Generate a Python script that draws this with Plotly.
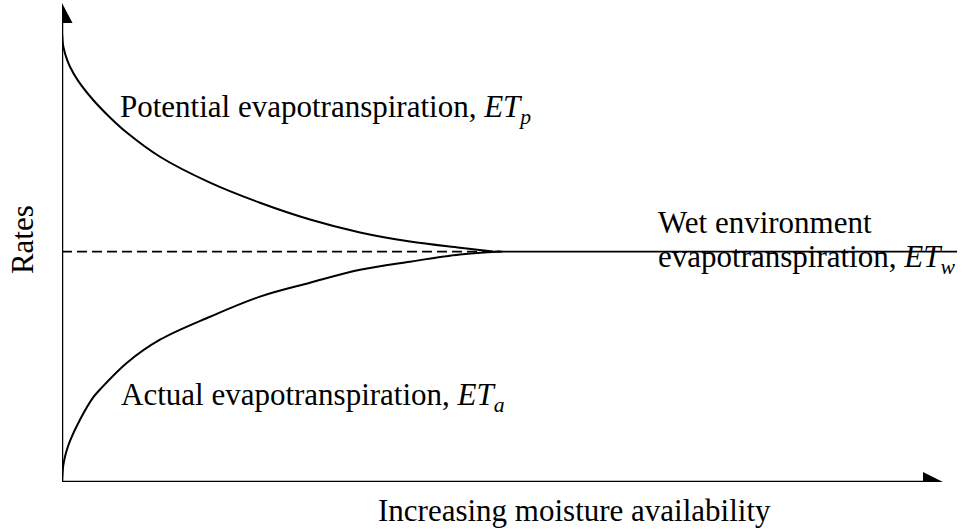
import plotly.graph_objects as go

# ---- data (moisture availability 0..1 along the axis, rates 0..1 along the axis)
moisture_etp = [0, 0.00114, 0.00227, 0.00454, 0.00908, 0.01816, 0.0352, 0.0545, 0.0738,
                0.1112, 0.168, 0.2247, 0.2815, 0.3383, 0.395, 0.4518, 0.4892]
rate_etp = [0.938, 0.913, 0.903, 0.888, 0.867, 0.838, 0.798, 0.761, 0.729,
            0.679, 0.625, 0.583, 0.548, 0.521, 0.502, 0.489, 0.481]

moisture_eta = [0, 0.00114, 0.00227, 0.00454, 0.00908, 0.0204, 0.0352, 0.0431, 0.0738,
                0.1112, 0.168, 0.2247, 0.2815, 0.3383, 0.395, 0.4518, 0.4972]
rate_eta = [0, 0.030, 0.043, 0.061, 0.086, 0.130, 0.176, 0.193, 0.249,
            0.297, 0.345, 0.387, 0.416, 0.443, 0.460, 0.475, 0.481]

et_w = 0.481
moisture_dashed = [0, 0.5]
moisture_solid = [0.49, 1.016]

FONT = "Liberation Serif, Times New Roman, serif"
FS = 31

X_MAX = 1.02384  # axis range so that the arrow tip (x=1) sits at the right place

fig = go.Figure()

fig.add_trace(go.Scatter(x=moisture_dashed, y=[et_w, et_w], mode="lines",
                         line=dict(color="black", width=1.6, dash="10px,5px"), hoverinfo="skip"))
fig.add_trace(go.Scatter(x=moisture_solid, y=[et_w, et_w], mode="lines",
                         line=dict(color="black", width=1.8), hoverinfo="skip"))
fig.add_trace(go.Scatter(x=moisture_etp, y=rate_etp, mode="lines",
                         line=dict(color="black", width=2, shape="spline", smoothing=1.0), hoverinfo="skip"))
fig.add_trace(go.Scatter(x=moisture_eta, y=rate_eta, mode="lines",
                         line=dict(color="black", width=2, shape="spline", smoothing=1.0), hoverinfo="skip"))

# axes with arrow heads
fig.add_shape(type="line", x0=0, y0=0, x1=0.985, y1=0, line=dict(color="black", width=2.5))
fig.add_shape(type="line", x0=0, y0=0, x1=0, y1=0.97, line=dict(color="black", width=2.5))
fig.add_shape(type="path", xref="x", yref="y", xsizemode="pixel", ysizemode="pixel",
              xanchor=1, yanchor=0, path="M -20,10 L 0,0 L -20,-10 Z",
              fillcolor="black", line=dict(color="black", width=0))
fig.add_shape(type="path", xref="x", yref="y", xsizemode="pixel", ysizemode="pixel",
              xanchor=0, yanchor=1, path="M -10.5,-20 L 0,0 L 10.5,-20 Z",
              fillcolor="black", line=dict(color="black", width=0))


def label(text, x, y, xanchor="left", yanchor="top", angle=0, ref="x"):
    fig.add_annotation(text=text, x=x, y=y,
                       xref="x" if ref == "x" else "paper",
                       yref="y" if ref == "x" else "paper",
                       showarrow=False, xanchor=xanchor, yanchor=yanchor, textangle=angle,
                       borderpad=0, borderwidth=0,
                       font=dict(family=FONT, size=FS, color="black"))


label("Potential evapotranspiration, <i>ET<sub>p</sub></i>", 0.0658, 0.820)
label("Actual evapotranspiration, <i>ET<sub>a</sub></i>", 0.0675, 0.2194)
label("Wet environment", 0.676, 0.5785)
label("evapotranspiration, <i>ET<sub>w</sub></i>", 0.676, 0.5075)
label("Increasing moisture availability", 0.3587 / X_MAX, -0.0235, ref="paper")
label("Rates", -0.0454 / X_MAX, 0.505, xanchor="center", yanchor="middle", angle=-90, ref="paper")

fig.update_layout(
    width=964, height=529,
    margin=dict(l=62, r=0, t=3, b=47),
    paper_bgcolor="white", plot_bgcolor="white",
    showlegend=False,
    xaxis=dict(range=[0, X_MAX], visible=False, fixedrange=True),
    yaxis=dict(range=[0, 1], visible=False, fixedrange=True),
)

fig.write_html("out.html", config={"displayModeBar": False, "staticPlot": True},
               post_script="document.body.style.margin='0';document.body.style.overflow='hidden';")
